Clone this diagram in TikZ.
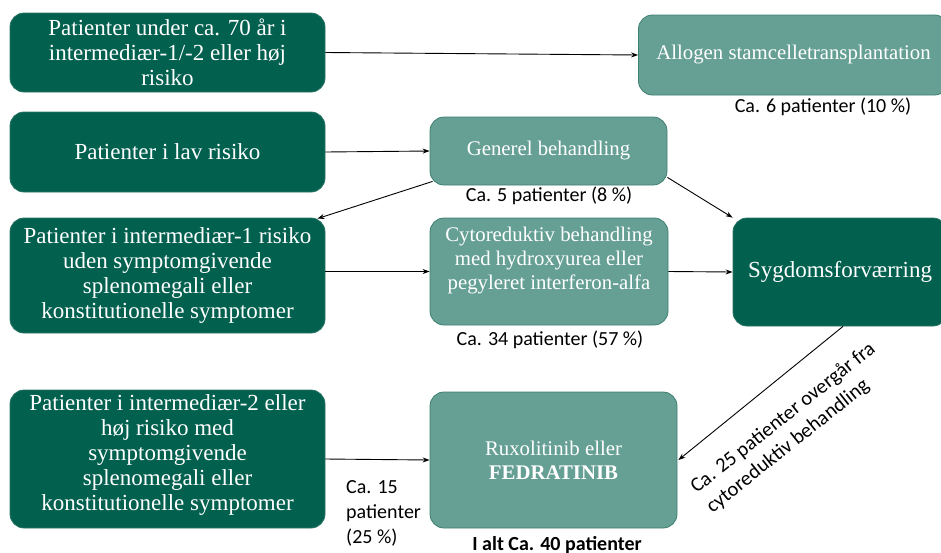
\documentclass[tikz,border=0pt]{standalone}
\usepackage{fontspec}
\setmainfont{Liberation Serif}
\newfontfamily\calib{Carlito}
\usetikzlibrary{arrows.meta,calc}
\definecolor{darkg}{HTML}{02604F}
\definecolor{darkgb}{HTML}{2A7565}
\definecolor{lightg}{HTML}{66A095}
\definecolor{lightgb}{HTML}{3E8070}
\tikzset{
  darkbox/.style={draw=darkgb, line width=0.8pt, fill=darkg, rounded corners=14pt, text=white, align=center, font=\fontsize{23}{25}\selectfont, inner sep=0pt},
  lightbox/.style={draw=lightgb, line width=0.8pt, fill=lightg, rounded corners=14pt, text=white, align=center, font=\fontsize{20.8}{24}\selectfont, inner sep=0pt},
  boxtext/.style={text=white, align=center, font=\fontsize{20.8}{24}\selectfont, inner sep=0pt},
  lbl/.style={font=\calib\fontsize{20}{25}\selectfont, inner sep=0pt},
  conn/.style={line width=0.9pt, -{Stealth[length=7pt,width=5pt]}}
}
\begin{document}
\begin{tikzpicture}[x=1pt,y=-1pt]
\useasboundingbox (0,0) rectangle (941,552);
\clip (0,0) rectangle (941,552);
% boxes
\node[darkbox, minimum width=315, minimum height=79] (A1) at (167.5,52.5) {Patienter under ca. 70 år i\\intermediær-1/-2 eller høj\\risiko};
\node[lightbox, minimum width=310, minimum height=80] (A2) at (793.5,55) {Allogen stamcelletransplantation};
\node[darkbox, minimum width=315, minimum height=80] (B1) at (167.5,152) {Patienter i lav risiko};
\node[lightbox, minimum width=237, minimum height=68] (B2) at (548.5,151) {Generel behandling};
\node[darkbox, minimum width=315, minimum height=115] (C1) at (167.5,275.5) {Patienter i intermediær-1 risiko\\uden symptomgivende\\splenomegali eller\\konstitutionelle symptomer};
\node[lightbox, minimum width=238, minimum height=107] (C2) at (549,271.5) {};
\node[boxtext] (C2t) at (549,261) {Cytoreduktiv behandling\\med hydroxyurea eller\\pegyleret interferon-alfa};
\node[darkbox, minimum width=214, minimum height=108] (S) at (840,272) {Sygdomsforværring};
\node[darkbox, minimum width=315, minimum height=138] (D1) at (167.5,459) {};
\node[darkbox, fill=none, draw=none] (D1t) at (167.5,455) {Patienter i intermediær-2 eller\\høj risiko med\\symptomgivende\\splenomegali eller\\konstitutionelle symptomer};
\node[lightbox, minimum width=247, minimum height=136] (D2) at (553.5,460) {Ruxolitinib eller\\\textbf{FEDRATINIB}};
% labels
\node[lbl] (LA2) at (823,107) {Ca. 6 patienter (10 \%)};
\node[lbl] (LB2) at (549,196) {Ca. 5 patienter (8 \%)};
\node[lbl] (LC2) at (550,340) {Ca. 34 patienter (57 \%)};
\node[lbl, anchor=west, align=left] (LD1) at (346,513) {Ca. 15\\patienter\\(25 \%)};
\node[lbl, font=\calib\bfseries\fontsize{20}{22}\selectfont] (LD2) at (557,545) {I alt Ca. 40 patienter};
\node[lbl, align=left, rotate=38.5, font=\calib\fontsize{20.5}{25}\selectfont] (LS) at (791,428) {Ca. 25 patienter overgår fra\\cytoreduktiv behandling};
% connectors
\draw[conn] (A1.east) -- (A2.west);
\draw[conn] (B1.east) -- (B2.west);
\draw[conn] ($(B2.south west)+(3,-4)$) -- ($(C1.north east)+(-8,1)$);
\draw[conn] ($(B2.south east)+(0,-8)$) -- (S.north west);
\draw[conn] (C1.east |- C2.west) -- (C2.west);
\draw[conn] (C2.east) -- (S.west);
\draw[conn] (D1.east) -- (D2.west);
\draw[conn] ($(S.south)+(3,0)$) -- ($(D2.east)+(1,0)$);
\end{tikzpicture}
\end{document}
